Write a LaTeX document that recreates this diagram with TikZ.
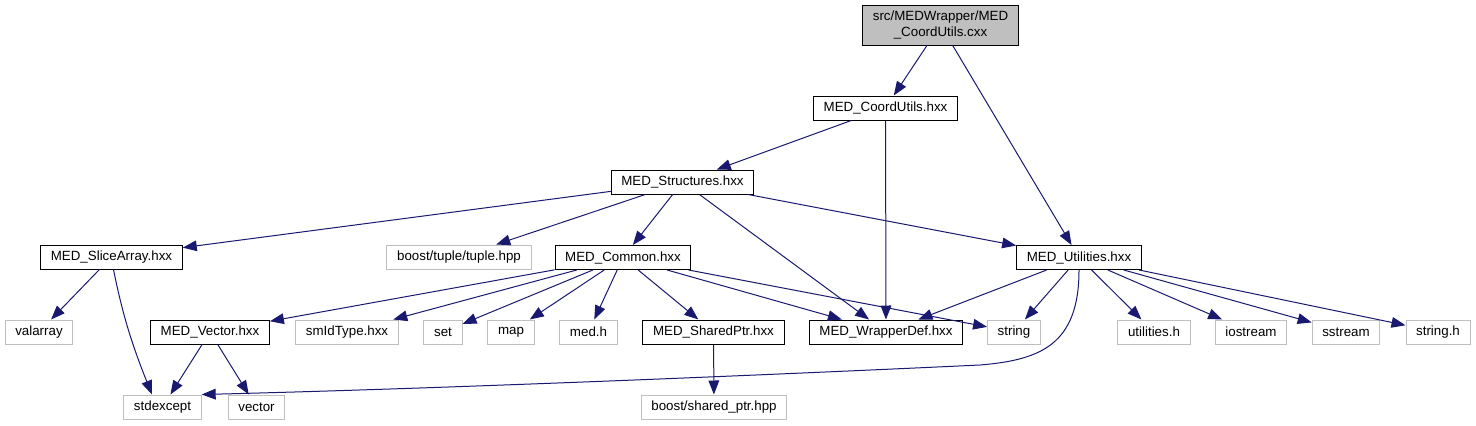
\documentclass[tikz,border=0pt]{standalone}
\usepackage{fontspec}
\setmainfont{Liberation Sans}
\usetikzlibrary{arrows.meta}
\definecolor{edgeblue}{HTML}{191970}
\definecolor{lightgrey}{HTML}{BFBFBF}

\begin{document}
\begin{tikzpicture}[
	x=0.75pt, y=-0.75pt,
	>={Triangle[length=10.5pt, width=8pt]},
	header/.style={draw=black, line width=0.75pt, inner xsep=7.6pt, inner ysep=0pt, minimum height=18pt, font=\fontsize{10}{11.5}\selectfont},
	syshdr/.style={header, draw=lightgrey},
	srcfile/.style={header, fill=lightgrey, align=center, minimum height=30pt},
	dep/.style={->, color=edgeblue, line width=0.75pt}
]
\useasboundingbox (0,0) rectangle (1476,425);

\node[srcfile] (root) at (940.5,25) {src/MEDWrapper/MED\\\_CoordUtils.cxx};
\node[header] (coordutils) at (885.5,108) {MED\_CoordUtils.hxx};
\node[header] (structs) at (682.5,182) {MED\_Structures.hxx};

\node[header] (slicearr) at (111.5,257) {MED\_SliceArray.hxx};
\node[syshdr] (tuple) at (459,257) {boost/tuple/tuple.hpp};
\node[header] (common) at (623,257.5) {MED\_Common.hxx};
\node[header] (utils) at (1079,257.5) {MED\_Utilities.hxx};

\node[syshdr] (valarray) at (39,332) {valarray};
\node[header] (vectorh) at (210,332) {MED\_Vector.hxx};
\node[syshdr] (smidtype) at (347,332) {smIdType.hxx};
\node[syshdr] (setn) at (443,332) {set};
\node[syshdr] (mapn) at (511,332) {map};
\node[syshdr] (medh) at (588.5,332) {med.h};
\node[header] (sharedptr) at (713.5,332) {MED\_SharedPtr.hxx};
\node[header] (wrapdef) at (886,332) {MED\_WrapperDef.hxx};
\node[syshdr] (stringn) at (1014,332) {string};
\node[syshdr] (utilh) at (1154,332) {utilities.h};
\node[syshdr] (iostream) at (1251,332) {iostream};
\node[syshdr] (sstream) at (1346,332) {sstream};
\node[syshdr] (stringh) at (1438,332) {string.h};

\node[syshdr] (stdexcept) at (162.5,407) {stdexcept};
\node[syshdr] (vectorn) at (256.5,407) {vector};
\node[syshdr] (boostsp) at (714,407) {boost/shared\_ptr.hpp};

\draw[dep] (root) -- (coordutils);
\draw[dep] (root) -- (utils);
\draw[dep] (coordutils) -- (structs);
\draw[dep] (coordutils) -- (wrapdef);
\draw[dep] (structs) -- (slicearr);
\draw[dep] (structs) -- (tuple);
\draw[dep] (structs) -- (common);
\draw[dep] (structs) -- (wrapdef);
\draw[dep] (structs) -- (utils);
\draw[dep] (slicearr) -- (valarray);
\draw[dep] ([xshift=1.5pt]slicearr.south) .. controls +(9,45) and +(-20,-50) .. ([xshift=-7.9pt]stdexcept.north);
\draw[dep] (common) -- (vectorh);
\draw[dep] (common) -- (smidtype);
\draw[dep] (common) -- (setn);
\draw[dep] (common) -- (mapn);
\draw[dep] (common) -- (medh);
\draw[dep] (common) -- (sharedptr);
\draw[dep] (common) -- (wrapdef);
\draw[dep] (common) -- (stringn);
\draw[dep] (utils) -- (wrapdef);
\draw[dep] (utils) -- (stringn);
\draw[dep] (utils.south) .. controls +(0,75) and +(60,-5) .. (980,365) .. controls +(-300,14) and +(200,-5) .. (stdexcept.north east);
\draw[dep] (utils) -- (utilh);
\draw[dep] (utils) -- (iostream);
\draw[dep] (utils) -- (sstream);
\draw[dep] (utils) -- (stringh);
\draw[dep] (vectorh) -- (stdexcept);
\draw[dep] (vectorh) -- (vectorn);
\draw[dep] (sharedptr) -- (boostsp);
\end{tikzpicture}
\end{document}
